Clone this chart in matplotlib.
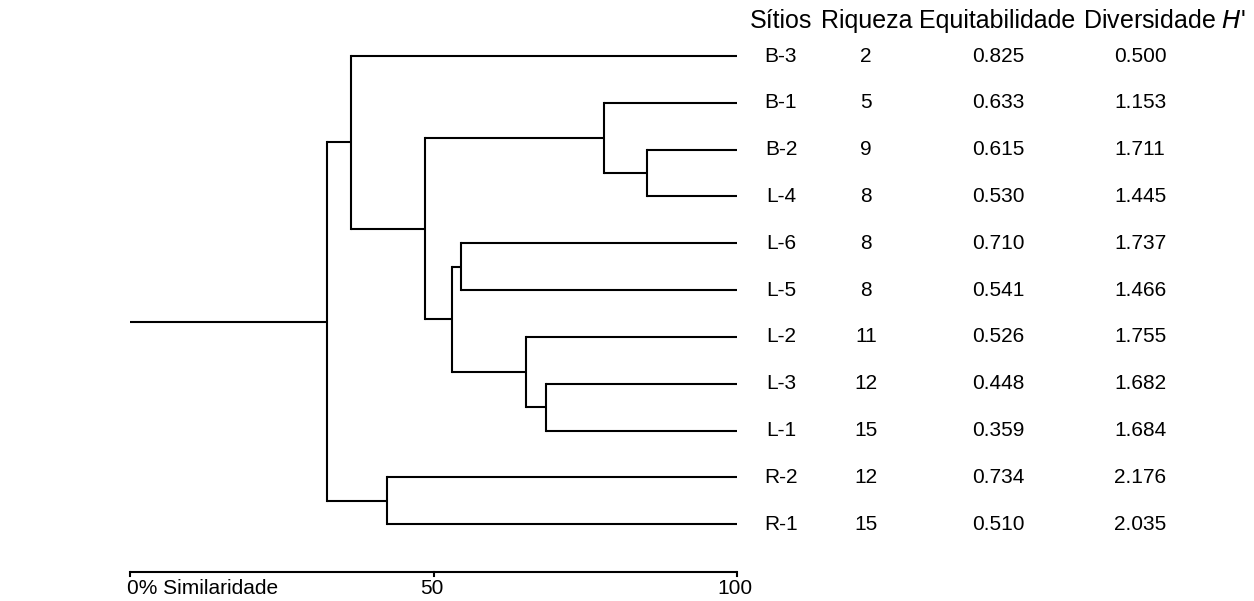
import matplotlib
matplotlib.use("Agg")
import matplotlib.pyplot as plt

plt.rcParams['font.family'] = ['Liberation Sans', 'DejaVu Sans']

# ---- data ----
sitios = ["B-3", "B-1", "B-2", "L-4", "L-6", "L-5", "L-2", "L-3", "L-1", "R-2", "R-1"]
riqueza = ["2", "5", "9", "8", "8", "8", "11", "12", "15", "12", "15"]
equitabilidade = ["0.825", "0.633", "0.615", "0.530", "0.710", "0.541", "0.526", "0.448", "0.359", "0.734", "0.510"]
diversidade = ["0.500", "1.153", "1.711", "1.445", "1.737", "1.466", "1.755", "1.682", "1.684", "2.176", "2.035"]

# cluster merges (children are leaf names or merge ids "N1".."N10"), similarity in %
merge_left = ["B-2", "B-1", "L-3", "L-2", "L-6", "N5", "N2", "R-2", "B-3", "N9"]
merge_right = ["L-4", "N1", "L-1", "N3", "L-5", "N4", "N6", "R-1", "N7", "N8"]
merge_sim = [85.2, 78.1, 68.6, 65.3, 54.5, 53.0, 48.6, 42.4, 36.4, 32.5]

headers = ["Sítios", "Riqueza", "Equitabilidade", "Diversidade $\\it{H}$'"]
axis_ticks = [0, 50, 100]
axis_ticklabels = ["0% Similaridade", "50", "100"]

# ---- figure ----
W, H = 1254, 601
fig = plt.figure(figsize=(W / 100, H / 100), dpi=100)
ax = fig.add_axes([0, 0, 1, 1])
ax.set_axis_off()

px_per_unit = (737 - 130) / 100.0
ax.set_xlim(-130 / px_per_unit, (W - 130) / px_per_unit)
row_px = 46.82
top_px = 56
ax.set_ylim((H - top_px) / row_px, -top_px / row_px)

lw = 1.5
col = "black"

pos = {}
for i, s in enumerate(sitios):
    pos[s] = (100.0, float(i))

for k, (a, b, sim) in enumerate(zip(merge_left, merge_right, merge_sim)):
    xa, ya = pos[a]
    xb, yb = pos[b]
    ax.plot([xa, sim], [ya, ya], color=col, lw=lw, solid_capstyle="butt")
    ax.plot([xb, sim], [yb, yb], color=col, lw=lw, solid_capstyle="butt")
    ax.plot([sim, sim], [ya, yb], color=col, lw=lw, solid_capstyle="projecting")
    pos["N%d" % (k + 1)] = (sim, (ya + yb) / 2.0)

# root line
rx, ry = pos["N%d" % len(merge_sim)]
ax.plot([0, rx], [ry, ry], color=col, lw=lw, solid_capstyle="butt")

def px2x(p):
    return (p - 130) / px_per_unit

def py2y(p):
    return (p - top_px) / row_px

# table columns
col_x = [px2x(781), px2x(866), px2x(998), px2x(1140)]
head_x = [px2x(781), px2x(867), px2x(997), px2x(1165)]
fs_row = 15
fs_head = 18
for hx, h in zip(head_x, headers):
    ax.text(hx, py2y(21), h, ha="center", va="center", fontsize=fs_head)

for i in range(len(sitios)):
    ax.text(col_x[0], i, sitios[i], ha="center", va="center", fontsize=fs_row)
    ax.text(col_x[1], i, riqueza[i], ha="center", va="center", fontsize=fs_row)
    ax.text(col_x[2], i, equitabilidade[i], ha="center", va="center", fontsize=fs_row)
    ax.text(col_x[3], i, diversidade[i], ha="center", va="center", fontsize=fs_row)

# similarity axis
ay = py2y(572)
ax.plot([axis_ticks[0], axis_ticks[-1]], [ay, ay], color=col, lw=lw, solid_capstyle="butt")
tick_len = 4 / row_px
for t, lab in zip(axis_ticks, axis_ticklabels):
    ax.plot([t, t], [ay, ay + tick_len], color=col, lw=lw)
    if t == axis_ticks[0]:
        ax.text(t - 0.5, py2y(588), lab, ha="left", va="center", fontsize=15)
    else:
        ax.text(t - 0.3, py2y(588), lab, ha="center", va="center", fontsize=15)

fig.savefig("out.png", dpi=100, facecolor="white")
